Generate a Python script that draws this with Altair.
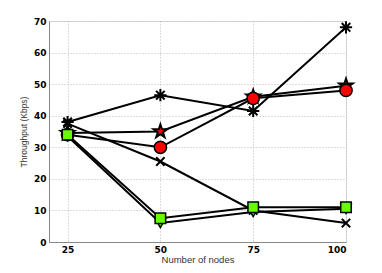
import altair as alt
import pandas as pd

nodes = [25, 50, 75, 100]
s_asterisk = [38, 46.5, 41.5, 68]
s_star = [34.5, 35, 46, 49.5]
s_circle = [34, 30, 45.5, 48]
s_x = [37.5, 25.5, 10, 6]
s_square = [34, 7.5, 11, 11]
s_tri = [33.5, 6, 9.5, 10.5]

series = {
    "asterisk": s_asterisk,
    "star": s_star,
    "circle": s_circle,
    "x": s_x,
    "square": s_square,
    "tri": s_tri,
}
rows = []
for name, vals in series.items():
    for n, v in zip(nodes, vals):
        rows.append({"series": name, "nodes": n, "tp": v})
df = pd.DataFrame(rows)

ASTER = "M-1,0L1,0M0,-1L0,1M-0.7,-0.7L0.7,0.7M-0.7,0.7L0.7,-0.7"
XSHAPE = "M-1,-1L1,1M-1,1L1,-1"
STAR = ("M0,-1L0.2245,-0.309L0.951,-0.309L0.363,0.118L0.588,0.809L0,0.382"
        "L-0.588,0.809L-0.363,0.118L-0.951,-0.309L-0.2245,-0.309Z")

xenc = alt.X("nodes:Q", scale=alt.Scale(domain=[20, 100], nice=False, zero=False),
             axis=alt.Axis(values=nodes, title="Number of nodes", grid=True,
                           gridDash=[1, 2], gridColor="#bbbbbb", domainColor="#888888",
                           ticks=False, labelPadding=3, titlePadding=0,
                           labelFont="DejaVu Sans", labelFontWeight="bold", labelFontSize=9,
                           labelColor="#000000", titleFont="Liberation Sans",
                           titleFontWeight="normal", titleFontSize=9.5, titleColor="#333333"))
yenc = alt.Y("tp:Q", scale=alt.Scale(domain=[0, 70], nice=False),
             axis=alt.Axis(values=list(range(0, 71, 10)), title="Throughput (Kbps)", grid=True,
                           gridDash=[1, 2], gridColor="#bbbbbb", domainColor="#888888",
                           ticks=False, labelPadding=3, titlePadding=5,
                           labelFont="DejaVu Sans", labelFontWeight="bold", labelFontSize=9,
                           labelColor="#000000", titleFont="Liberation Sans",
                           titleFontWeight="normal", titleFontSize=8.5, titleColor="#333333"))

base = alt.Chart(df)
lines = base.mark_line(color="black", strokeWidth=2).encode(x=xenc, y=yenc, detail="series:N")

def pts(name, shape, size, fill, filled=True, sw=1.5):
    kw = dict(shape=shape, size=size, stroke="black", strokeWidth=sw, opacity=1)
    if filled:
        kw.update(filled=True, fill=fill)
    else:
        kw.update(filled=False)
    return base.transform_filter(alt.datum.series == name).mark_point(**kw).encode(x=xenc, y=yenc)

layers = [
    lines,
    pts("asterisk", ASTER, 150, None, filled=False, sw=2),
    pts("x", XSHAPE, 70, None, filled=False, sw=2),
    pts("star", STAR, 200, "#ff0000", sw=2),
    pts("circle", "circle", 150, "#ff0000", sw=1.5),
    pts("tri", "triangle-down", 110, "#66ff00", sw=1.5),
    pts("square", "square", 110, "#66ff00", sw=1.5),
]

chart = alt.layer(*layers).properties(
    width=297, height=221,
    autosize=alt.AutoSizeParams(type="none"),
    padding={"left": 41, "top": 13, "right": 20, "bottom": 34},
).configure_view(stroke=None).configure(background="white")

chart.save("out.html", embed_options={"renderer": "svg", "actions": False})
